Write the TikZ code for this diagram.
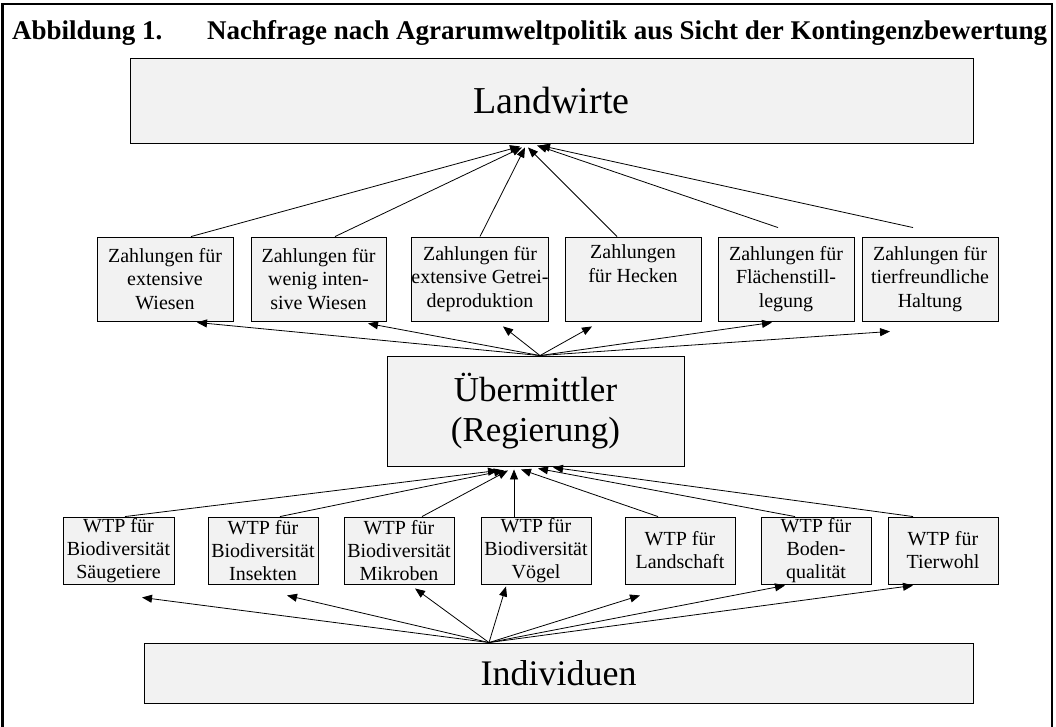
\documentclass[tikz,border=0pt]{standalone}
\usepackage{fontspec}
\setmainfont{Liberation Serif}
\usetikzlibrary{arrows.meta,calc}
\definecolor{boxgray}{HTML}{F2F2F2}
\begin{document}
\begin{tikzpicture}[x=1pt,y=-1pt,
  box/.style={draw=black, line width=0.9pt, fill=boxgray, inner sep=0pt, align=center},
  small/.style={box, font=\fontsize{20}{23.5}\selectfont},
  wtp/.style={box, font=\fontsize{20}{23}\selectfont},
  big/.style={box, font=\fontsize{38}{40}\selectfont},
  arr/.style={line width=0.8pt, -{Triangle[length=10pt,width=8pt]}},
  titlefont/.style={font=\bfseries\fontsize{27}{30}\selectfont, inner sep=0pt}]
\useasboundingbox (0,0) rectangle (1056,726);
% frame
\draw[line width=2.5pt] (2.5,740) -- (2.5,4) -- (1052,4) -- (1052,740);
% title
\node[titlefont, anchor=base west] (tA) at (12,39) {Abbildung 1.};
\node[titlefont, anchor=base west] (tB) at (207,39) {Nachfrage nach Agrarumweltpolitik aus Sicht der Kontingenzbewertung};
% main boxes
\node[big, minimum width=843pt, minimum height=85pt] (lw) at (551.5,100.5) {Landwirte};
\node[box, font=\fontsize{35}{40}\selectfont, minimum width=297pt, minimum height=110pt] (ub) at (535.5,411) {Übermittler\\(Regierung)};
\node[box, font=\fontsize{36}{40}\selectfont, minimum width=829pt, minimum height=60pt] (ind) at (558.5,673) {Individuen};
% payment boxes
\node[small, minimum width=136pt, minimum height=84pt] (p1) at (165,279) {Zahlungen für\\extensive\\Wiesen};
\node[small, minimum width=135pt, minimum height=84pt] (p2) at (318.5,279) {Zahlungen für\\wenig inten-\\sive Wiesen};
\node[small, minimum width=136pt, minimum height=84pt] (p3) at (480,279) {Zahlungen für\\extensive Getrei-\\deproduktion};
\node[small, minimum width=136pt, minimum height=84pt] (p4) at (633,279) {Zahlungen\\für Hecken\\\strut};
\node[small, minimum width=136pt, minimum height=84pt] (p5) at (786,279) {Zahlungen für\\Flächenstill-\\legung};
\node[small, minimum width=136pt, minimum height=84pt] (p6) at (930,279) {Zahlungen für\\tierfreundliche\\Haltung};
% WTP boxes
\node[wtp, minimum width=111pt, minimum height=67pt] (w1) at (118.5,550.5) {WTP für\\Biodiversität\\Säugetiere};
\node[wtp, minimum width=110pt, minimum height=67pt] (w2) at (263,550.5) {WTP für\\Biodiversität\\Insekten};
\node[wtp, minimum width=110pt, minimum height=67pt] (w3) at (399,550.5) {WTP für\\Biodiversität\\Mikroben};
\node[wtp, minimum width=110pt, minimum height=67pt] (w4) at (536,550.5) {WTP für\\Biodiversität\\Vögel};
\node[wtp, minimum width=110pt, minimum height=67pt] (w5) at (680,550.5) {WTP für\\Landschaft};
\node[wtp, minimum width=110pt, minimum height=67pt] (w6) at (816,550.5) {WTP für\\Boden-\\qualität};
\node[wtp, minimum width=110pt, minimum height=67pt] (w7) at (943,550.5) {WTP für\\Tierwohl};
% payments -> Landwirte
\draw[arr] ($(p1.north)+(26,0)$) -- ($(lw.south)+(-31.5,3)$);
\draw[arr] ($(p2.north)+(16.5,0)$) -- ($(lw.south)+(-29.5,4)$);
\draw[arr] (p3.north) -- ($(lw.south)+(-26.5,4)$);
\draw[arr] ($(p4.north)+(-16,0)$) -- ($(lw.south)+(-23.5,4)$);
\draw[arr] ($(p5.north)+(-8,-9)$) -- ($(lw.south)+(-14.5,2)$);
\draw[arr] ($(p6.north)+(-17,-9)$) -- ($(lw.south)+(-11.5,2)$);
% Uebermittler -> payments
\coordinate (ubtop) at ($(ub.north)+(4.5,0)$);
\draw[arr] (ubtop) -- ($(p1.south)+(32,1)$);
\draw[arr] (ubtop) -- ($(p2.south)+(49.5,2)$);
\draw[arr] (ubtop) -- ($(p3.south)+(23,5)$);
\draw[arr] (ubtop) -- ($(p4.south)+(-41,5)$);
\draw[arr] (ubtop) -- ($(p5.south)+(-14,1)$);
\draw[arr] (ubtop) -- ($(p6.south)+(-40,10)$);
% WTP -> Uebermittler
\draw[arr] ($(w1.north)+(6.5,0)$) -- ($(ub.south)+(-37.5,4)$);
\draw[arr] ($(w2.north)+(17,0)$) -- ($(ub.south)+(-31.5,4)$);
\draw[arr] ($(w3.north)+(23,0)$) -- ($(ub.south)+(-27.5,4)$);
\draw[arr] ($(w4.north)+(-22,0)$) -- ($(ub.south)+(-21.5,3)$);
\draw[arr] ($(w5.north)+(-22,0)$) -- ($(ub.south)+(-14.5,3)$);
\draw[arr] ($(w6.north)+(-21,0)$) -- ($(ub.south)+(2.5,2)$);
\draw[arr] ($(w7.north)+(-30,0)$) -- ($(ub.south)+(17.5,1)$);
% Individuen -> WTP
\coordinate (indtop) at ($(ind.north)+(-69.5,0)$);
\draw[arr] (indtop) -- ($(w1.south)+(23.5,13)$);
\draw[arr] (indtop) -- ($(w2.south)+(24,11)$);
\draw[arr] (indtop) -- ($(w3.south)+(16,4)$);
\draw[arr] (indtop) -- ($(w4.south)+(-30,2)$);
\draw[arr] (indtop) -- ($(w5.south)+(-40,11)$);
\draw[arr] (indtop) -- ($(w6.south)+(-31,1)$);
\draw[arr] (indtop) -- ($(w7.south)+(-30,1)$);
\end{tikzpicture}
\end{document}
